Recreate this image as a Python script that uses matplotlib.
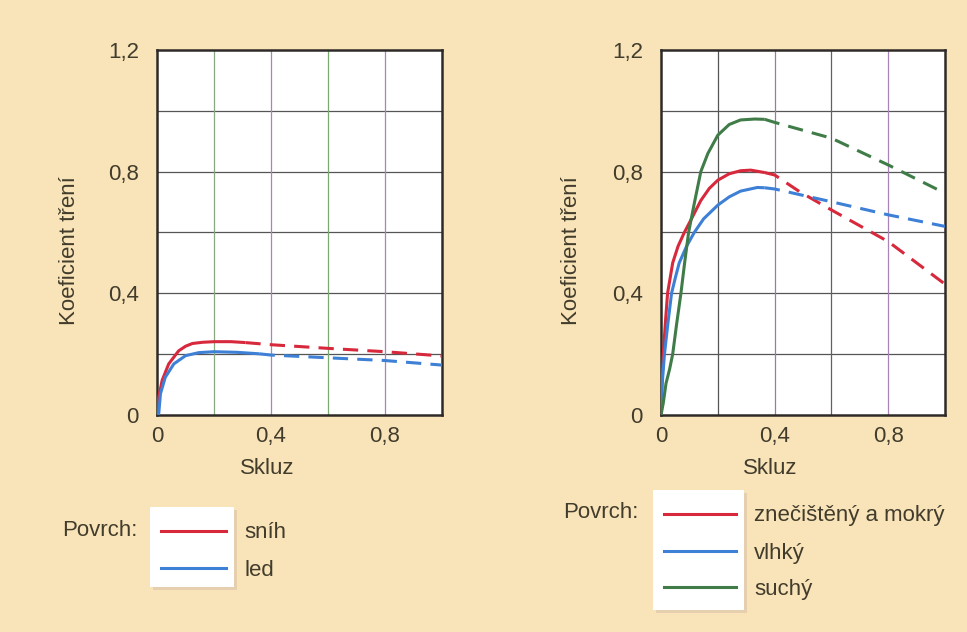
import matplotlib.pyplot as plt
from matplotlib.patches import Rectangle

plt.rcParams['font.family'] = ['Liberation Sans', 'DejaVu Sans']

# --- data ------------------------------------------------------------------
# left chart: snih (snow), led (ice)
snih_solid_x = [0.0, 0.006, 0.018, 0.041, 0.076, 0.1, 0.124, 0.16, 0.2, 0.26, 0.31]
snih_solid_y = [0.0, 0.059, 0.114, 0.168, 0.211, 0.226, 0.235, 0.239, 0.241, 0.241, 0.238]
snih_dash_x = [0.31, 0.4, 0.6, 0.8, 1.0]
snih_dash_y = [0.238, 0.231, 0.219, 0.208, 0.194]

led_solid_x = [0.004, 0.006, 0.012, 0.029, 0.059, 0.1, 0.147, 0.2, 0.28, 0.36]
led_solid_y = [0.0, 0.005, 0.07, 0.124, 0.168, 0.195, 0.205, 0.208, 0.206, 0.201]
led_dash_x = [0.36, 0.4, 0.6, 0.8, 1.0]
led_dash_y = [0.201, 0.197, 0.188, 0.179, 0.164]

# right chart: znecisteny a mokry, vlhky, suchy
mokry_solid_x = [0.0, 0.003, 0.008, 0.015, 0.023, 0.032, 0.041, 0.06, 0.082, 0.11, 0.14,
                 0.17, 0.2, 0.24, 0.28, 0.316, 0.365]
mokry_solid_y = [0.0, 0.1, 0.2, 0.3, 0.4, 0.45, 0.5, 0.555, 0.6, 0.65, 0.705,
                 0.745, 0.772, 0.793, 0.803, 0.805, 0.797]
mokry_dash_x = [0.365, 0.4, 0.488, 0.6, 0.8, 1.0]
mokry_dash_y = [0.797, 0.789, 0.734, 0.674, 0.57, 0.43]

vlhky_solid_x = [0.0, 0.004, 0.012, 0.024, 0.037, 0.05, 0.064, 0.09, 0.117, 0.15, 0.2,
                 0.24, 0.28, 0.339, 0.365]
vlhky_solid_y = [0.0, 0.1, 0.2, 0.3, 0.4, 0.45, 0.5, 0.555, 0.6, 0.645, 0.69,
                 0.717, 0.736, 0.748, 0.747]
vlhky_dash_x = [0.365, 0.4, 0.6, 0.8, 1.0]
vlhky_dash_y = [0.747, 0.743, 0.701, 0.658, 0.62]

suchy_solid_x = [0.0, 0.008, 0.0175, 0.03, 0.041, 0.055, 0.07, 0.083, 0.097, 0.118, 0.14,
                 0.165, 0.2, 0.24, 0.28, 0.33, 0.365]
suchy_solid_y = [0.0, 0.04, 0.104, 0.15, 0.2, 0.3, 0.4, 0.5, 0.6, 0.7, 0.8,
                 0.86, 0.92, 0.955, 0.97, 0.973, 0.972]
suchy_dash_x = [0.365, 0.4, 0.6, 0.8, 1.0]
suchy_dash_y = [0.972, 0.962, 0.91, 0.822, 0.729]

y_ticks = [0, 0.4, 0.8, 1.2]
y_tick_labels = ['0', '0,4', '0,8', '1,2']
x_ticks = [0, 0.4, 0.8]
x_tick_labels = ['0', '0,4', '0,8']

left_names = ['sníh', 'led']
right_names = ['znečištěný a mokrý', 'vlhký', 'suchý']

# --- style ------------------------------------------------------------------
BG = '#f8e4b8'
TXT = '#423c2c'
RED = '#d8283c'
BLUE = '#3d80d6'
GREEN = '#3f7c48'
FS = 16
LW = 2.2
W, H = 967, 632

fig = plt.figure(figsize=(9.67, 6.32), dpi=100)
fig.patch.set_facecolor(BG)


def setup_axes(rect, vcolors):
    ax = fig.add_axes(rect)
    ax.set_facecolor('white')
    ax.set_xlim(0, 1.0)
    ax.set_ylim(0, 1.2)
    for yv in [0.2, 0.4, 0.6, 0.8, 1.0]:
        ax.axhline(yv, color='#555555', lw=0.9, zorder=1)
    for xv, c in zip([0.2, 0.4, 0.6, 0.8], vcolors):
        ax.axvline(xv, color=c, lw=0.9, zorder=1)
    for s in ax.spines.values():
        s.set_color('#2e2a28')
        s.set_linewidth(1.8)
    ax.set_xticks(x_ticks, x_tick_labels)
    ax.set_yticks(y_ticks, y_tick_labels)
    ax.tick_params(length=0, labelsize=FS, labelcolor=TXT, pad=13)
    ax.tick_params(axis='x', pad=8)
    ax.set_xlabel('Skluz', fontsize=FS, color=TXT)
    ax.set_ylabel('Koeficient tření', fontsize=FS, color=TXT)
    ax.xaxis.set_label_coords(0.386, -0.117)
    return ax


def draw(ax, sx, sy, dx, dy, color):
    ax.plot(sx, sy, color=color, lw=LW, zorder=3, solid_capstyle='butt',
            solid_joinstyle='round')
    ax.plot(dx, dy, color=color, lw=LW, zorder=3, dashes=(5, 3))


def legend_box(box_px, line_rows, names, colors, label_px):
    # box_px: left, top, right, bottom in pixels; line_rows: y pixel of each sample
    left, top, right, bottom = box_px
    rect = [left / W, 1 - bottom / H, (right - left) / W, (bottom - top) / H]
    shadow = Rectangle((rect[0] + 0.003, rect[1] - 0.004), rect[2], rect[3],
                       transform=fig.transFigure, facecolor='#e6cfae',
                       edgecolor='none', zorder=0)
    fig.patches.append(shadow)
    lax = fig.add_axes(rect)
    lax.set_zorder(2)
    lax.set_facecolor('white')
    lax.set_xlim(left, right)
    lax.set_ylim(bottom, top)
    lax.set_xticks([])
    lax.set_yticks([])
    for s in lax.spines.values():
        s.set_visible(False)
    for row, name, c in zip(line_rows, names, colors):
        lax.plot([left + 11, right - 8], [row, row], color=c, lw=LW)
        fig.text((right + 10) / W, 1 - (row + 2) / H, name, fontsize=FS, color=TXT,
                 va='center')
    fig.text(label_px[0] / W, 1 - label_px[1] / H, 'Povrch:', fontsize=FS, color=TXT,
             va='center')


vc_left = ['#88a880', '#a884b8', '#7aaa72', '#a884b8']
vc_right = ['#555555', '#9a78aa', '#6a5a70', '#a884b8']

ax1 = setup_axes([0.1624, 0.3434, 0.2947, 0.5775], vc_left)
ax1.yaxis.set_label_coords(-0.27, 0.45)
draw(ax1, snih_solid_x, snih_solid_y, snih_dash_x, snih_dash_y, RED)
draw(ax1, led_solid_x, led_solid_y, led_dash_x, led_dash_y, BLUE)

ax2 = setup_axes([0.6836, 0.3434, 0.2937, 0.5775], vc_right)
ax2.yaxis.set_label_coords(-0.278, 0.45)
draw(ax2, mokry_solid_x, mokry_solid_y, mokry_dash_x, mokry_dash_y, RED)
draw(ax2, vlhky_solid_x, vlhky_solid_y, vlhky_dash_x, vlhky_dash_y, BLUE)
draw(ax2, suchy_solid_x, suchy_solid_y, suchy_dash_x, suchy_dash_y, GREEN)

legend_box((150, 507, 234, 587), [531, 568], left_names, [RED, BLUE], (62, 530))
legend_box((653, 490, 744, 610), [514, 551, 587], right_names, [RED, BLUE, GREEN],
           (563, 513))

fig.savefig('out.png', dpi=100, facecolor=BG)
